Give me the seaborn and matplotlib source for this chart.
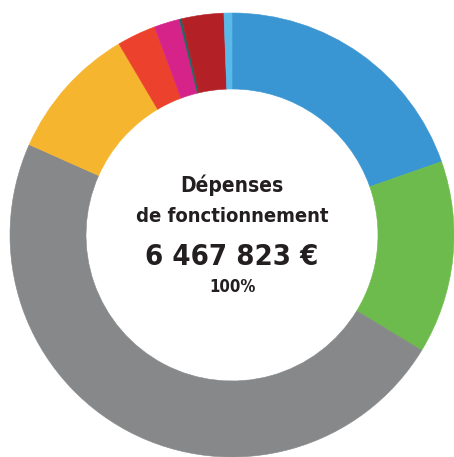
import matplotlib
matplotlib.use("Agg")
import matplotlib.pyplot as plt
import seaborn as sns

# Postes de dépenses de fonctionnement (part en %), dans le sens horaire depuis midi
categories = ['Bleu', 'Vert', 'Gris', 'Jaune', 'Rouge', 'Magenta', 'Vert foncé', 'Bordeaux', 'Bleu clair']
shares = [19.64, 14.06, 47.97, 9.83, 2.83, 1.86, 0.17, 3.06, 0.58]
colors = ['#3a96d2', '#6cbb4c', '#868889', '#f6b52e', '#ec412d',
          '#d5238a', '#1c6a5e', '#b32026', '#59b9e9']

title_lines = ['Dépenses', 'de fonctionnement']
total_label = '6 467 823 €'
pct_label = '100%'


def main():
    sns.set_theme(style="white")
    plt.rcParams['font.family'] = ['DejaVu Sans']

    fig = plt.figure(figsize=(4.54, 4.57), dpi=100)
    ax = fig.add_axes([0, 0, 1, 1])

    outer_r = 222
    inner_r = 146
    wedges, _ = ax.pie(shares, colors=sns.color_palette(colors), radius=outer_r,
                       startangle=90, counterclock=False,
                       wedgeprops=dict(width=outer_r - inner_r, linewidth=0.4))
    for w in wedges:
        w.set_edgecolor(w.get_facecolor())

    ax.set_xlim(-232, 222)
    ax.set_ylim(-222, 235)
    ax.set_aspect('equal')
    ax.axis('off')

    txt = dict(ha='center', va='center', fontweight='bold', fontstretch='condensed', color='#231f20')
    ax.text(0, 50, title_lines[0], fontsize=15, **txt)
    ax.text(0, 18, title_lines[1], fontsize=14.5, **txt)
    ax.text(0, -22, total_label, fontsize=21, **txt)
    ax.text(0, -52, pct_label, fontsize=12, **txt)

    fig.savefig('out.png', dpi=100)


if __name__ == "__main__":
    main()
